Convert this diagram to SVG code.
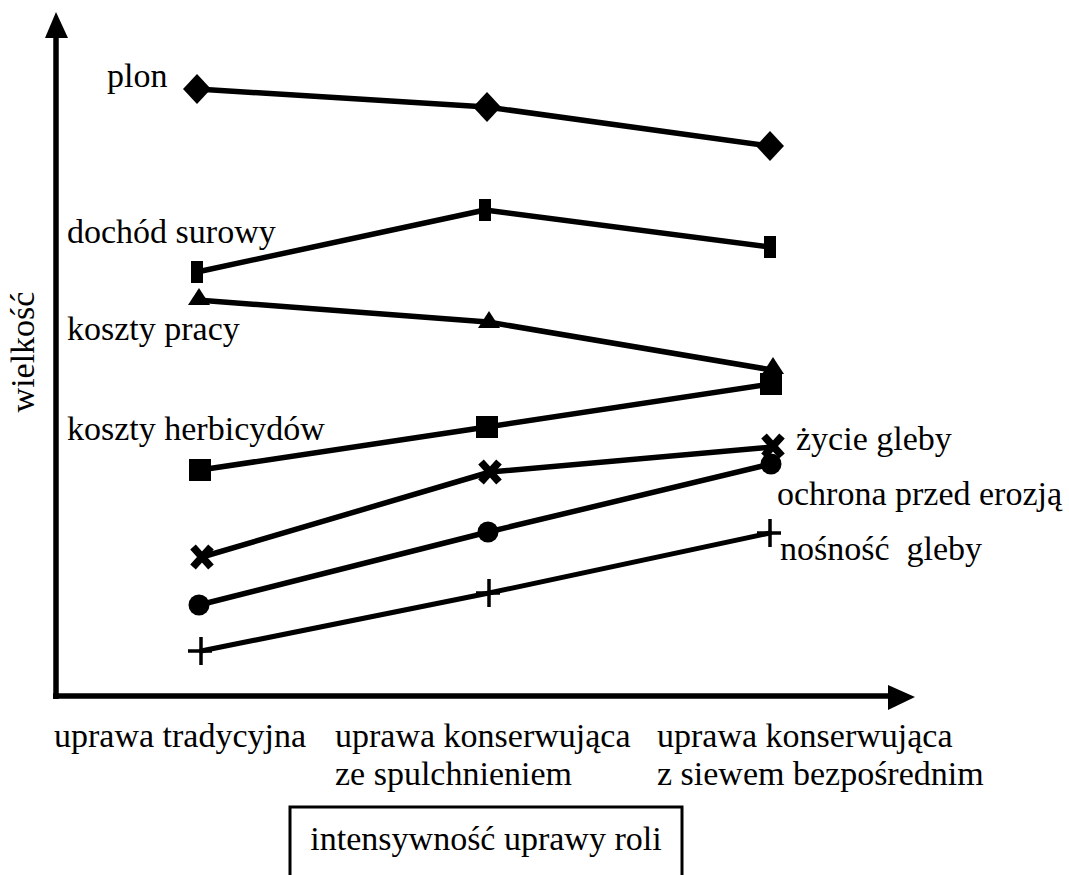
<svg xmlns="http://www.w3.org/2000/svg" xmlns:xlink="http://www.w3.org/1999/xlink" width="1069" height="875" viewBox="0 0 1069 875">
<style>
text{font-family:"Liberation Serif","Times New Roman",serif;font-size:34px;fill:#000}
.ln{fill:none;stroke:#000;stroke-width:5.5;stroke-linejoin:round;stroke-linecap:round}
.ln2{fill:none;stroke:#000;stroke-width:5;stroke-linejoin:round;stroke-linecap:round}
.ax{stroke:#000;stroke-width:5.5}
.m{fill:#000}
</style>
<defs>
<polygon id="dia" points="0,-15 14,0 0,15 -14,0" class="m"/>
<rect id="sq" x="-6" y="-11" width="12" height="22" class="m"/>
<polygon id="tri" points="0,-10 11,7 -11,7" class="m"/>
<rect id="bsq" x="-11" y="-11" width="22" height="22" class="m"/>
<path id="xm" d="M-9,-10 L9,10 M9,-10 L-9,10" stroke="#000" stroke-width="7.5" fill="none"/>
<circle id="cir" r="10.5" class="m"/>
<path id="pl" d="M-13,0 H11 M0,-14 V14" stroke="#000" stroke-width="3.5" fill="none"/>
</defs>
<g id="axes">
<line class="ax" x1="56" y1="30" x2="56" y2="699"/>
<polygon points="56,12 45,38 68,38" class="m"/>
<line class="ax" x1="53" y1="696" x2="895" y2="696"/>
<polygon points="915,697 888,685 888,710" class="m"/>
<text transform="translate(34,352) rotate(-90)" text-anchor="middle">wielkość</text>
</g>
<g id="connectors">
<polyline class="ln" points="197,89 487,107 770,146"/>
<polyline class="ln" points="197,272 485,210 770,247"/>
<polyline class="ln" points="197,300 488,322 772,370"/>
<polyline class="ln" points="200,470 487,427 771,384"/>
<polyline class="ln" points="202,557 490,472 773,447"/>
<polyline class="ln" points="199,605 488,532 771,464"/>
<polyline class="ln2" points="201,651 489,593 770,533"/>
</g>
<g id="plon">
<use xlink:href="#dia" x="197" y="89"/><use xlink:href="#dia" x="487" y="107"/><use xlink:href="#dia" x="770" y="146"/>
<text x="107" y="87">plon</text>
</g>
<g id="dochod">
<use xlink:href="#sq" x="197" y="272"/><use xlink:href="#sq" x="485" y="210"/><use xlink:href="#sq" x="770" y="247"/>
<text x="67" y="243">dochód surowy</text>
</g>
<g id="koszty-pracy">
<use xlink:href="#tri" x="199" y="298"/><use xlink:href="#tri" x="489" y="321"/><use xlink:href="#tri" x="773" y="367"/>
<text x="67" y="340">koszty pracy</text>
</g>
<g id="koszty-herbicydow">
<use xlink:href="#bsq" x="200" y="470"/><use xlink:href="#bsq" x="487" y="427"/><use xlink:href="#bsq" x="771" y="384"/>
<text x="67" y="440">koszty herbicydów</text>
</g>
<g id="zycie-gleby">
<use xlink:href="#xm" x="202" y="557"/><use xlink:href="#xm" x="490" y="472"/><use xlink:href="#xm" x="773" y="446"/>
<text x="796" y="450">życie gleby</text>
</g>
<g id="ochrona">
<use xlink:href="#cir" x="199" y="605"/><use xlink:href="#cir" x="488" y="532"/><use xlink:href="#cir" x="771" y="464"/>
<text x="777" y="505">ochrona przed erozją</text>
</g>
<g id="nosnosc">
<use xlink:href="#pl" x="201" y="651"/><use xlink:href="#pl" x="489" y="593"/><use xlink:href="#pl" x="770" y="533"/>
<text x="780" y="560" xml:space="preserve">nośność  gleby</text>
</g>
<g id="x-labels">
<text x="54" y="747">uprawa tradycyjna</text>
<text x="335" y="747">uprawa konserwująca</text>
<text x="335" y="785">ze spulchnieniem</text>
<text x="657" y="747">uprawa konserwująca</text>
<text x="657" y="785">z siewem bezpośrednim</text>
</g>
<g id="box">
<rect x="290" y="807" width="392" height="90" fill="none" stroke="#000" stroke-width="3"/>
<text x="486" y="850" text-anchor="middle">intensywność uprawy roli</text>
</g>
</svg>
